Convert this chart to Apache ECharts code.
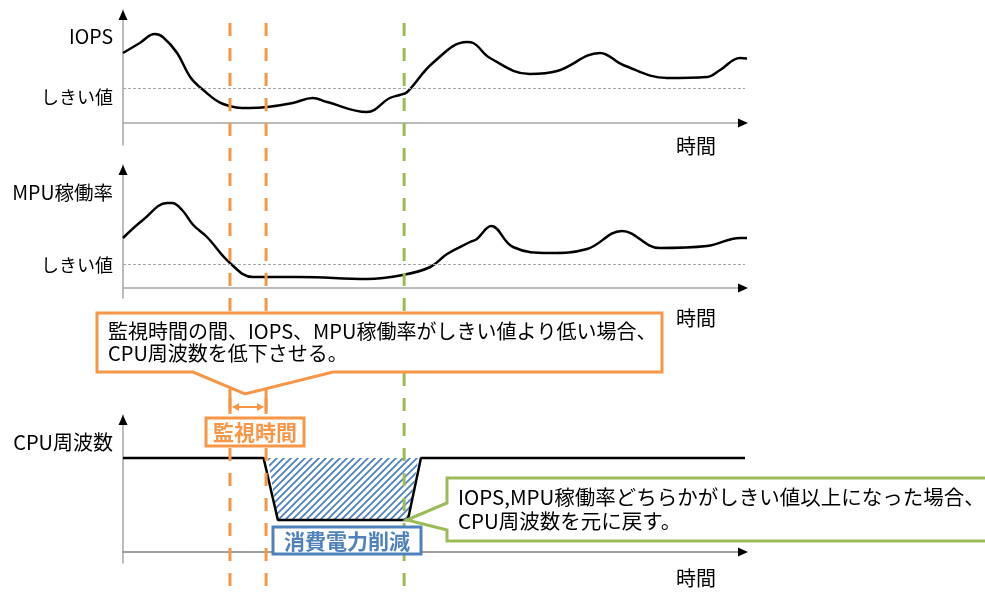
<!DOCTYPE html>
<html>
<head>
<meta charset="utf-8">
<script src="https://cdn.jsdelivr.net/npm/echarts@6/dist/echarts.min.js"></script>
<style>
html, body { margin: 0; padding: 0; background: #fff; }
#chart { width: 985px; height: 592px; }
</style>
</head>
<body>
<div id="chart"></div>
<script>
// time runs 0..100 on every panel, values are heights above each baseline
const iopsT = [0, 2.7, 5.1, 6.4, 8.7, 10.8, 12.9, 16.1, 20.4, 23.2, 27.3, 30.5, 32.8, 39.2, 42.9, 44.5, 45.7, 49.8, 55.3, 56.3, 59, 65.4, 69.8, 76.7, 80.4, 87.5, 93.9, 96, 99.2, 101.1];
const iopsV = [70, 80, 89, 86, 70, 46, 33, 19, 15, 16, 20, 25, 21, 11, 25, 28, 31, 60, 81, 80, 65, 49, 52, 70, 58, 45, 46, 53, 65, 64];
const iopsThreshold = 35;

const mpuT = [0, 3.2, 7.1, 7.9, 9.5, 11.3, 13.5, 17.2, 20.9, 28.5, 39.2, 45, 49.4, 52.1, 55.8, 56.9, 59.2, 62.7, 68.6, 74.6, 80.2, 86.3, 93.9, 99.2, 102.1];
const mpuV = [50, 68, 85, 85, 78, 63, 51, 25, 11, 11, 9, 13, 21, 34, 46, 49, 62, 41, 35, 39, 57, 40, 42, 50, 50];
const mpuThreshold = 24;

const cpuT = [0, 22.6, 24.9, 45.8, 47.9, 100];
const cpuV = [94, 94, 32, 32, 94, 94];
// power saving region (hatched)
const hatchT = [23.3, 24.9, 45.8, 47.5];
const hatchV = [94, 32, 32, 94];

const monitorStart = 17.2;
const monitorEnd = 23;
const restoreTime = 45.2;

const font = '"Noto Sans CJK JP", "Noto Sans", sans-serif';
const orange = '#f79646';
const green = '#9bbb59';
const blue = '#4f81bd';
const axisGrey = '#a6a6a6';

const grids = [
	{ left: 123, right: 240, top: 10, height: 135 },
	{ left: 123, right: 240, top: 165, height: 133 },
	{ left: 123, right: 240, top: 415, height: 148 }
];
const yRanges = [[-22, 113], [-10, 123], [-11, 137]];

function makeHatch() {
	const s = 7;
	const c = document.createElement('canvas');
	c.width = s;
	c.height = s;
	const ctx = c.getContext('2d');
	ctx.fillStyle = '#fff';
	ctx.fillRect(0, 0, s, s);
	ctx.strokeStyle = blue;
	ctx.lineWidth = 1.8;
	ctx.beginPath();
	ctx.moveTo(0, s);
	ctx.lineTo(s, 0);
	ctx.moveTo(-1, 1);
	ctx.lineTo(1, -1);
	ctx.moveTo(s - 1, s + 1);
	ctx.lineTo(s + 1, s - 1);
	ctx.stroke();
	return c;
}
const hatch = makeHatch();

const zip = (ts, vs) => ts.map((t, i) => [t, vs[i]]);

const chart = echarts.init(document.getElementById('chart'));

const threshold = v => ({
	silent: true,
	symbol: 'none',
	label: { show: false },
	lineStyle: { color: '#a6a6a6', type: [3, 2], width: 1 },
	data: [{ yAxis: v }]
});

chart.setOption({
	animation: false,
	grid: grids,
	xAxis: grids.map((g, i) => ({
		type: 'value',
		gridIndex: i,
		min: 0,
		max: 100,
		axisLine: { show: true, onZero: true, lineStyle: { color: i === 2 ? '#808080' : axisGrey, width: 1.5 } },
		axisTick: { show: false },
		axisLabel: { show: false },
		splitLine: { show: false }
	})),
	yAxis: grids.map((g, i) => ({
		type: 'value',
		gridIndex: i,
		min: yRanges[i][0],
		max: yRanges[i][1],
		axisLine: { show: true, onZero: false, lineStyle: { color: axisGrey, width: 1.5 } },
		axisTick: { show: false },
		axisLabel: { show: false },
		splitLine: { show: false }
	})),
	series: [
		{
			name: 'IOPS',
			type: 'line',
			xAxisIndex: 0,
			yAxisIndex: 0,
			data: zip(iopsT, iopsV),
			smooth: 0.4,
			symbol: 'none',
			clip: false,
			lineStyle: { color: '#000', width: 2.5 },
			markLine: threshold(iopsThreshold),
			z: 3
		},
		{
			name: 'MPU稼働率',
			type: 'line',
			xAxisIndex: 1,
			yAxisIndex: 1,
			data: zip(mpuT, mpuV),
			smooth: 0.4,
			symbol: 'none',
			clip: false,
			lineStyle: { color: '#000', width: 2.5 },
			markLine: threshold(mpuThreshold),
			z: 3
		},
		{
			name: '消費電力削減',
			type: 'custom',
			xAxisIndex: 2,
			yAxisIndex: 2,
			data: [[0, 0]],
			silent: true,
			renderItem: (params, api) => ({
				type: 'polygon',
				shape: { points: hatchT.map((t, i) => api.coord([t, hatchV[i]])) },
				style: { fill: { image: hatch, repeat: 'repeat' }, stroke: null }
			}),
			z: 2
		},
		{
			name: 'CPU周波数',
			type: 'line',
			xAxisIndex: 2,
			yAxisIndex: 2,
			data: zip(cpuT, cpuV),
			symbol: 'none',
			lineStyle: { color: '#000', width: 2.5 },
			z: 3
		}
	]
});

const P = (g, t, v) => chart.convertToPixel({ gridIndex: g }, [t, v]);

const gfx = [];
// arrow heads on the axes
grids.forEach((g, i) => {
	const o = P(i, 0, 0);
	const top = P(i, 0, yRanges[i][1]);
	const end = P(i, 100, 0);
	gfx.push({
		type: 'polygon', z: 20,
		shape: { points: [[o[0], top[1]], [o[0] - 4.5, top[1] + 10], [o[0] + 4.5, top[1] + 10]] },
		style: { fill: '#000' }
	});
	gfx.push({
		type: 'polygon', z: 20,
		shape: { points: [[end[0] + 3, o[1]], [end[0] - 7, o[1] - 4.5], [end[0] - 7, o[1] + 4.5]] },
		style: { fill: '#000' }
	});
});

// dashed markers
const xs = [monitorStart, monitorEnd].map(t => P(0, t, 0)[0]);
const xg = P(0, restoreTime, 0)[0];
xs.forEach(x => {
	gfx.push({
		type: 'line', z: 10, silent: true,
		shape: { x1: x, y1: 23, x2: x, y2: 586 },
		style: { stroke: orange, lineWidth: 3, lineDash: [13, 12] }
	});
});
gfx.push({
	type: 'line', z: 10, silent: true,
	shape: { x1: xg, y1: 23, x2: xg, y2: 586 },
	style: { stroke: green, lineWidth: 3, lineDash: [13, 12] }
});

// orange callout
const mid = (xs[0] + xs[1]) / 2;
gfx.push({
	type: 'polygon', z: 30,
	shape: { points: [[97, 313], [662, 313], [662, 372], [mid + 85, 372], [mid - 3, 394], [mid - 55, 372], [97, 372]] },
	style: { fill: '#fff', stroke: orange, lineWidth: 3 }
});
gfx.push({
	type: 'text', z: 31, x: 108, y: 320,
	style: {
		text: '監視時間の間、IOPS、MPU稼働率がしきい値より低い場合、\nCPU周波数を低下させる。',
		fontSize: 20, fontFamily: font, fill: '#000', lineHeight: 22
	}
});

// monitor bracket
xs.forEach(x => {
	gfx.push({
		type: 'line', z: 30,
		shape: { x1: x, y1: 389, x2: x, y2: 414 },
		style: { stroke: orange, lineWidth: 3 }
	});
});
gfx.push({
	type: 'line', z: 30,
	shape: { x1: xs[0] + 6, y1: 407, x2: xs[1] - 6, y2: 407 },
	style: { stroke: orange, lineWidth: 2 }
});
gfx.push({
	type: 'polygon', z: 30,
	shape: { points: [[xs[0] + 2, 407], [xs[0] + 9, 403], [xs[0] + 9, 411]] },
	style: { fill: orange }
});
gfx.push({
	type: 'polygon', z: 30,
	shape: { points: [[xs[1] - 2, 407], [xs[1] - 9, 403], [xs[1] - 9, 411]] },
	style: { fill: orange }
});
gfx.push({
	type: 'rect', z: 30,
	shape: { x: mid - 42, y: 418, width: 98, height: 28 },
	style: { fill: '#fff', stroke: orange, lineWidth: 3 }
});
gfx.push({
	type: 'text', z: 31, x: mid + 7, y: 432,
	style: { text: '監視時間', fontSize: 21, fontWeight: 'bold', fontFamily: font, fill: orange, align: 'center', verticalAlign: 'middle' }
});

// power saving label
gfx.push({
	type: 'rect', z: 30,
	shape: { x: 273, y: 527, width: 148, height: 27 },
	style: { fill: '#fff', stroke: blue, lineWidth: 3 }
});
gfx.push({
	type: 'text', z: 31, x: 347, y: 541,
	style: { text: '消費電力削減', fontSize: 21, fontWeight: 'bold', fontFamily: font, fill: blue, align: 'center', verticalAlign: 'middle' }
});

// green callout
const tip = P(2, hatchT[2], hatchV[2]);
gfx.push({
	type: 'polygon', z: 30,
	shape: { points: [[447, 478], [995, 478], [995, 541], [447, 541], [447, 530], [tip[0] - 1, tip[1]], [447, 503]] },
	style: { fill: '#fff', stroke: green, lineWidth: 3 }
});
gfx.push({
	type: 'text', z: 31, x: 458, y: 485,
	style: {
		text: 'IOPS,MPU稼働率どちらかがしきい値以上になった場合、\nCPU周波数を元に戻す。',
		fontSize: 20.5, fontFamily: font, fill: '#000', lineHeight: 24
	}
});

// axis names
const labels = [
	['IOPS', 113, 37, 'right', 19.5],
	['しきい値', 113, 97, 'right', 18],
	['MPU稼働率', 113, 193, 'right', 19.5],
	['しきい値', 113, 265, 'right', 18],
	['CPU周波数', 113, 442, 'right', 20],
	['時間', 696, 146, 'center', 20],
	['時間', 696, 318, 'center', 20],
	['時間', 696, 578, 'center', 20]
];
labels.forEach(l => {
	gfx.push({
		type: 'text', z: 25, x: l[1], y: l[2],
		style: { text: l[0], fontSize: l[4], fontFamily: font, fill: '#000', align: l[3], verticalAlign: 'middle' }
	});
});

chart.setOption({ graphic: gfx });
</script>
</body>
</html>
